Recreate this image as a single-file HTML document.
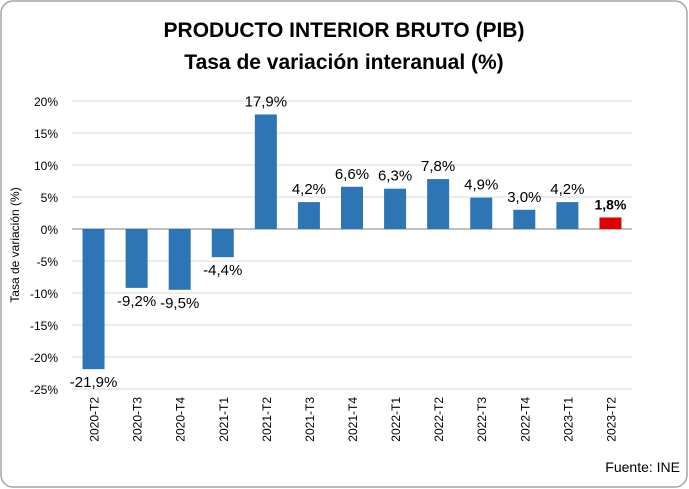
<!DOCTYPE html>
<html><head><meta charset="utf-8"><style>
body{margin:0;background:#fff;}
#wrap{position:relative;width:689px;height:489px;overflow:hidden;font-family:"Liberation Sans",sans-serif;}
</style></head><body>
<div id="wrap">
<svg id="chart" width="689" height="489">
<rect x="1" y="1" width="686" height="486" rx="12" fill="#fff" stroke="#a6a6a6" stroke-width="1.5"/>
<text x="344" y="37" text-anchor="middle" font-size="21" font-weight="bold" fill="#000">PRODUCTO INTERIOR BRUTO (PIB)</text>
<text x="344" y="69" text-anchor="middle" font-size="21" font-weight="bold" fill="#000">Tasa de variación interanual (%)</text>
<text transform="translate(19,245) rotate(-90)" text-anchor="middle" font-size="12" fill="#000">Tasa de variación (%)</text>
<text x="680" y="472" text-anchor="end" font-size="14" fill="#000">Fuente: INE</text>
<g id="grid"></g><g id="bars"></g><g id="labels"></g>
</svg>
</div>
<script>
const categories=["2020-T2","2020-T3","2020-T4","2021-T1","2021-T2","2021-T3","2021-T4","2022-T1","2022-T2","2022-T3","2022-T4","2023-T1","2023-T2"];
const values=[-21.9,-9.2,-9.5,-4.4,17.9,4.2,6.6,6.3,7.8,4.9,3.0,4.2,1.8];
const valueLabels=["-21,9%","-9,2%","-9,5%","-4,4%","17,9%","4,2%","6,6%","6,3%","7,8%","4,9%","3,0%","4,2%","1,8%"];
const yTicks=[20,15,10,5,0,-5,-10,-15,-20,-25];
const yTickLabels=["20%","15%","10%","5%","0%","-5%","-10%","-15%","-20%","-25%"];
const NS="http://www.w3.org/2000/svg";
const x0=72,x1=632,yTop=101,yBot=389,vMax=20,vMin=-25;
const y=v=>yTop+(vMax-v)/(vMax-vMin)*(yBot-yTop);
const band=(x1-x0)/categories.length;
const xc=i=>x0+band*(i+0.5);
function mk(t,a,parent){const e=document.createElementNS(NS,t);for(const k in a)e.setAttribute(k,a[k]);parent.appendChild(e);return e;}
const grid=document.getElementById('grid'),bars=document.getElementById('bars'),labels=document.getElementById('labels');
yTicks.forEach((t,i)=>{
 const l=mk('line',{x1:x0,x2:x1,y1:y(t),y2:y(t),stroke:t===0?'#bfbfbf':'#d9d9d9','stroke-width':t===0?2:1},grid);
 
 
 const tx=mk('text',{x:58,y:y(t)+5,'text-anchor':'end','font-size':12,fill:'#000'},grid);
 tx.textContent=yTickLabels[i];
 
 
});
categories.forEach((c,i)=>{
 const v=values[i],w=22,last=i===categories.length-1;
 const r=mk('rect',{x:xc(i)-w/2,y:Math.min(y(v),y(0)),width:w,height:Math.abs(y(v)-y(0)),fill:last?'#e00000':'#2e75b6'},bars);
 
 
 const lt=mk('text',{x:xc(i),y:v>=0?y(v)-8:y(v)+18,'text-anchor':'middle','font-size':last?14:15,'font-weight':last?'bold':'normal',fill:'#000'},labels);
 lt.textContent=valueLabels[i];
 
 
 const ct=mk('text',{transform:`translate(${xc(i)+5},${yBot+8}) rotate(-90)`,'text-anchor':'end','font-size':12,fill:'#000'},labels);
 ct.textContent=c;
 
 
});
</script>
</body></html>
